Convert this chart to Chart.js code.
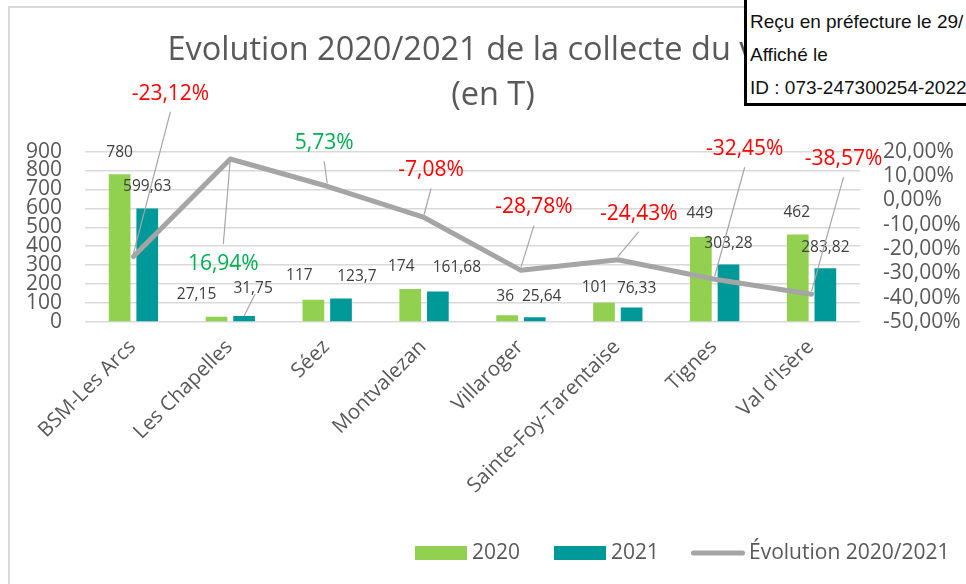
<!DOCTYPE html>
<html lang="fr">
<head>
<meta charset="utf-8">
<title>Evolution 2020/2021 de la collecte du verre</title>
<script src="https://cdn.jsdelivr.net/npm/chart.js@4.4.1/dist/chart.umd.min.js"></script>
<style>
  html, body { margin: 0; padding: 0; background: #fff; overflow: hidden; }
  #wrap { position: relative; width: 966px; height: 584px; overflow: hidden; }
  #frame { position: absolute; left: 8px; top: 6px; width: 1000px; height: 700px; border: 2px solid #d9d9d9; box-sizing: border-box; }
  #chart { position: absolute; left: 0; top: 0; }
  #stamp { position: absolute; left: 744px; top: -3px; width: 240px; height: 109px; border: 3px solid #000; background: #fff; box-sizing: border-box;
           font-family: "Liberation Sans", Arial, sans-serif; font-size: 19px; color: #111; white-space: nowrap; }
  #stamp div { position: absolute; left: 3px; line-height: 20px; }
</style>
</head>
<body>
<div id="wrap">
  <div id="frame"></div>
  <canvas id="chart" width="966" height="584"></canvas>
  <div id="stamp">
    <div style="top:12px">Reçu en préfecture le 29/</div>
    <div style="top:45px">Affiché le</div>
    <div style="top:78px">ID : 073-247300254-2022</div>
  </div>
</div>
<script>
// data (tonnes, and % change)
const categories = ["BSM-Les Arcs", "Les Chapelles", "Séez", "Montvalezan", "Villaroger", "Sainte-Foy-Tarentaise", "Tignes", "Val d'Isère"];
const tonnes2020 = [780, 27.15, 117, 174, 36, 101, 449, 462];
const tonnes2021 = [599.63, 31.75, 123.7, 161.68, 25.64, 76.33, 303.28, 283.82];
const evolution = [-23.12, 16.94, 5.73, -7.08, -28.78, -24.43, -32.45, -38.57];
const seriesNames = ["2020", "2021", "Évolution 2020/2021"];
const titleLines = ["Evolution 2020/2021 de la collecte du verre", "(en T)"];

// label placement (pixels, relative to the mark)
const shift2020 = [[0, 0], [-20, 0], [-14, -2], [-9, 0], [-2, 3], [-9, 7], [-1, -1], [-1, 0]];
const shift2021 = [[0, 0], [9, -5], [16, 0], [19, -2], [7, 1], [5, 3], [0, 1], [0, 1]];
const calloutPos = [[37, -163], [-7, 105], [-3, -43], [7, -47], [13, -63], [21, -46], [30, -130], [32, -135]];

const GREEN = "#92d050", TEAL = "#009999", GREY = "#a5a5a5", TEXT = "#595959";
const FONT = '"Open Sans", sans-serif';

Chart.defaults.font.family = FONT;
Chart.defaults.color = TEXT;

function frNum(v) { return String(v).replace(".", ","); }
function frPct(v) { return v.toFixed(2).replace(".", ",") + "%"; }

const labelPlugin = {
  id: "valueLabels",
  afterDatasetsDraw(chart) {
    const ctx = chart.ctx;
    ctx.save();
    ctx.textAlign = "center";
    ctx.textBaseline = "middle";

    // bar values
    [[0, shift2020], [1, shift2021]].forEach(([di, shifts]) => {
      chart.getDatasetMeta(di).data.forEach((bar, i) => {
        const v = chart.data.datasets[di].data[i];
        const x = bar.x + shifts[i][0];
        const y = bar.y - 22 + shifts[i][1];
        ctx.font = "15.5px " + FONT;
        ctx.fillStyle = "#404040";
        ctx.fillText(frNum(v), x, y);
        if (di === 1 && i === 1) {
          ctx.strokeStyle = "#a6a6a6";
          ctx.lineWidth = 1.2;
          ctx.beginPath();
          ctx.moveTo(x + 2, y + 5);
          ctx.lineTo(bar.x, bar.y);
          ctx.stroke();
        }
      });
    });

    // % callouts on the line
    chart.getDatasetMeta(2).data.forEach((pt, i) => {
      const v = chart.data.datasets[2].data[i];
      const tx = pt.x + calloutPos[i][0];
      const ty = pt.y + calloutPos[i][1];
      const above = calloutPos[i][1] < 0;
      ctx.strokeStyle = "#a6a6a6";
      ctx.lineWidth = 1.2;
      ctx.beginPath();
      ctx.moveTo(tx, ty + (above ? 18 : -20));
      ctx.lineTo(pt.x, pt.y + (above ? -3 : 0));
      ctx.stroke();
      ctx.font = "21px " + FONT;
      ctx.fillStyle = v < 0 ? "#ff0000" : "#00b050";
      ctx.fillText(frPct(v), tx, ty);
    });
    ctx.restore();
  }
};

// legend drawn by hand so it sits where the original one does
const legendPlugin = {
  id: "bottomLegend",
  afterDraw(chart) {
    const ctx = chart.ctx;
    const y = 553;
    const items = [{ box: 415, w: 52, text: 472 }, { box: 554, w: 52, text: 611 }, { box: 691, w: 54, text: 749 }];
    ctx.save();
    chart.data.datasets.forEach((ds, i) => {
      const it = items[i];
      if (ds.type === "line") {
        ctx.strokeStyle = ds.borderColor;
        ctx.lineWidth = 5;
        ctx.lineCap = "round";
        ctx.beginPath();
        ctx.moveTo(it.box + 2.5, y);
        ctx.lineTo(it.box + it.w - 2.5, y);
        ctx.stroke();
      } else {
        ctx.fillStyle = ds.backgroundColor;
        ctx.fillRect(it.box, y - 7, it.w, 14);
      }
      ctx.font = "21px " + FONT;
      ctx.fillStyle = TEXT;
      ctx.textAlign = "left";
      ctx.textBaseline = "middle";
      ctx.fillText(ds.label, it.text, y);
    });
    ctx.restore();
  }
};

new Chart(document.getElementById("chart"), {
  type: "bar",
  data: {
    labels: categories,
    datasets: [
      { type: "bar", label: seriesNames[0], data: tonnes2020, backgroundColor: GREEN, yAxisID: "y", order: 2,
        categoryPercentage: 0.57, barPercentage: 0.786 },
      { type: "bar", label: seriesNames[1], data: tonnes2021, backgroundColor: TEAL, yAxisID: "y", order: 2,
        categoryPercentage: 0.57, barPercentage: 0.786 },
      { type: "line", label: seriesNames[2], data: evolution, borderColor: GREY, backgroundColor: GREY, yAxisID: "y1", order: 1,
        borderWidth: 5, pointRadius: 0, tension: 0, borderJoinStyle: "round", borderCapStyle: "round" }
    ]
  },
  options: {
    responsive: false,
    animation: false,
    devicePixelRatio: 1,
    layout: { padding: { left: 20, right: 0, top: 0, bottom: 0 } },
    plugins: {
      legend: { display: false },
      tooltip: { enabled: false },
      title: {
        display: true,
        text: titleLines,
        color: TEXT,
        font: { size: 32.5, weight: "normal", lineHeight: 1.385 },
        padding: { top: 28.5, bottom: 33 }
      }
    },
    scales: {
      x: {
        offset: true,
        grid: { display: false, drawTicks: false },
        border: { display: false },
        ticks: { autoSkip: false, maxRotation: 45, minRotation: 45, padding: 13, labelOffset: -1, color: TEXT, font: { size: 20.5 } },
        afterFit(s) { s.height = 262; }
      },
      y: {
        position: "left",
        min: 0, max: 900,
        grid: { color: "#d9d9d9", lineWidth: 1.5, drawTicks: false },
        border: { display: false },
        ticks: { stepSize: 100, autoSkip: false, padding: 23, color: TEXT, font: { size: 21, lineHeight: 1 } },
        afterFit(s) { s.width = 65; }
      },
      y1: {
        position: "right",
        min: -50, max: 20,
        grid: { display: false, drawTicks: false },
        border: { display: false },
        ticks: { stepSize: 10, autoSkip: false, padding: 23, color: TEXT, font: { size: 21, lineHeight: 1 },
                 callback: v => frPct(v) },
        afterFit(s) { s.width = 106; }
      }
    }
  },
  plugins: [labelPlugin, legendPlugin]
});
</script>
</body>
</html>
